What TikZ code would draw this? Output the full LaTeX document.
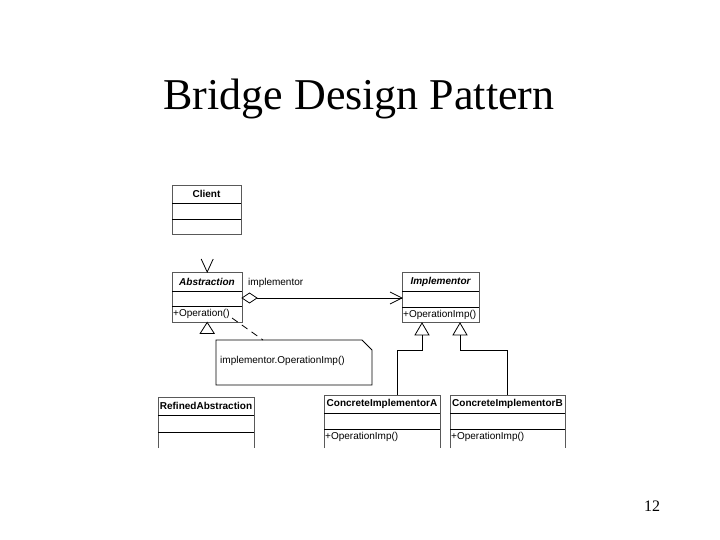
\documentclass[tikz,border=0pt]{standalone}
\usepackage{fontspec}
\setmainfont{Liberation Serif}
\newfontfamily\umlfont{Liberation Sans}
\usetikzlibrary{arrows.meta,calc}
\tikzset{
  frame/.style={draw=black!65, line width=0.9pt},
  divider/.style={draw=black, line width=0.8pt},
  conn/.style={draw=black, line width=0.8pt},
  ttl/.style={font=\umlfont\fontsize{10}{12}\selectfont\bfseries, inner sep=0pt},
  ittl/.style={font=\umlfont\fontsize{10}{12}\selectfont\bfseries\itshape, inner sep=0pt},
  optxt/.style={font=\umlfont\fontsize{10}{12}\selectfont, inner sep=0pt, anchor=west},
  hollow/.style={conn, fill=white},
}
\newcommand{\umlbox}[8]{% name, x1, y1, x2, y2, d1, d2, bottom? (1/0)
  \node[inner sep=0pt, minimum width={(#4-#2)*1pt}, minimum height={(#5-#3)*1pt}, anchor=north west] (#1) at (#2,#3) {};
  \ifnum#8=1
    \draw[frame, fill=white] (#2,#3) rectangle (#4,#5);
  \else
    \fill[white] (#2,#3) rectangle (#4,#5);
    \draw[frame] (#2,#5) -- (#2,#3) -- (#4,#3) -- (#4,#5);
  \fi
  \draw[divider] (#2,#6) -- (#4,#6);
  \draw[divider] (#2,#7) -- (#4,#7);
}
\begin{document}
\begin{tikzpicture}[x=1pt,y=-1pt]
\useasboundingbox (0,0) rectangle (720,540);
\fill[white] (0,0) rectangle (720,540);

\node[font=\fontsize{44}{50}\selectfont, anchor=base, inner sep=0pt] (title) at (359,110) {Bridge Design Pattern};
\node[font=\fontsize{16}{18}\selectfont, anchor=base, inner sep=0pt] (page) at (652,511) {12};

% classes
\umlbox{client}{172}{185}{241}{234}{203}{219}{1}
\node[ttl] (clientT) at (206.5,194) {Client};

\umlbox{abs}{172}{272}{242}{322}{291}{306}{1}
\node[ittl] (absT) at (207,281.5) {Abstraction};
\node[optxt] (absO) at (173,314) {+Operation()};

\umlbox{impl}{402}{272}{479}{322}{291}{307}{1}
\node[ittl] (implT) at (440.5,281.5) {Implementor};
\node[optxt] (implO) at (403,314.5) {+OperationImp()};

\umlbox{ref}{158}{397}{254}{448}{415}{432}{0}
\node[ttl] (refT) at (206,406) {RefinedAbstraction};

\umlbox{ca}{324}{395}{440}{448}{413}{429}{0}
\node[ttl] (caT) at (382,404) {ConcreteImplementorA};
\node[optxt] (caO) at (325,437) {+OperationImp()};

\umlbox{cb}{450}{395}{565}{448}{413}{429}{0}
\node[ttl] (cbT) at (507.5,404) {ConcreteImplementorB};
\node[optxt] (cbO) at (451,437) {+OperationImp()};

% note
\node[inner sep=0pt, minimum width=156pt, minimum height=45pt, anchor=north west] (note) at (216,340) {};
\draw[conn, fill=white] (216,340) -- (362,340) -- (372,350) -- (372,385) -- (216,385) -- cycle;
\node[optxt] (noteT) at (220,361) {implementor.OperationImp()};

% Client -> Abstraction (open arrowhead only)
\coordinate (absTop) at (abs.north);
\draw[conn] ($(absTop)+(-6,-13)$) -- (absTop) -- ($(absTop)+(6,-13)$);

% generalization triangle below Abstraction
\coordinate (absBot) at (abs.south);
\draw[hollow] (absBot) -- ++(-7,11) -- ++(14,0) -- cycle;

% aggregation Abstraction -> Implementor
\coordinate (dL) at (242,298);
\coordinate (aggEnd) at (402,298);
\draw[conn] (257,298) -- (aggEnd);
\draw[hollow] (dL) -- (249.5,293) -- (257,298) -- (249.5,303) -- cycle;
\draw[conn] ($(aggEnd)+(-12,-6)$) -- (aggEnd) -- ($(aggEnd)+(-12,6)$);
\node[optxt] (implLbl) at (248,283) {implementor};

% dashed note link
\coordinate (opEnd) at (232,318);
\draw[conn, dashed, dash pattern=on 7pt off 5pt] (opEnd) -- (note.north -| 263,0);

% realization/generalization from concrete classes
\coordinate (tA) at (422,323);
\coordinate (tB) at (460,323);
\draw[hollow] (tA) -- ++(-7,12) -- ++(14,0) -- cycle;
\draw[hollow] (tB) -- ++(-7,12) -- ++(14,0) -- cycle;
\draw[conn] (422,335) |- (397,350) -- (ca.north -| 397,0);
\draw[conn] (460,335) |- (507,350) -- (cb.north -| 507,0);
\end{tikzpicture}
\end{document}
